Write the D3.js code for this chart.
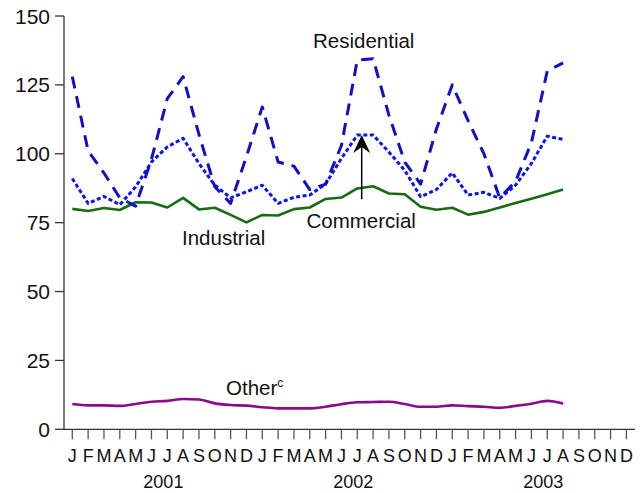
<!DOCTYPE html>
<html><head><meta charset="utf-8">
<script src="https://cdn.jsdelivr.net/npm/d3@7"></script>
<style>
html,body{margin:0;padding:0;background:#fff;}
svg{display:block;}
text{font-family:"Liberation Sans",Arial,Helvetica,sans-serif;fill:#111;}
</style></head>
<body>
<svg id="chart" width="643" height="493"></svg>
<script>
// ---- data (Jan 2001 .. Aug 2003), index 0 = Jan 2001 ----
const monthLabels = ["J","F","M","A","M","J","J","A","S","O","N","D"];
const years = ["2001","2002","2003"];
const yTicks = [0,25,50,75,100,125,150];

const residential = [128,101,93,84,81,98,120,128,107,88,82,99,
                     117,97,95.5,87,89,103,134,134.5,114,97,89,109,
                     125,112,100,84,90,104,130,133];
const commercial  = [91,82,84.5,81.5,88,97,102.5,105.6,96.5,88.6,84,86.2,
                     88.6,82,84.2,85,89,98.3,106.8,106.8,100.6,94,84.4,87,
                     93.1,85,86,83.8,88.6,96.5,106.4,105.2];
const industrial  = [80,79.2,80.3,79.6,82.4,82.3,80.5,84,79.8,80.4,77.8,75.1,
                     77.8,77.6,79.9,80.5,83.6,84.1,87.4,88.2,85.6,85.3,80.8,79.7,
                     80.4,77.9,78.9,80.5,82.1,83.7,85.3,87];
const other       = [9.2,8.7,8.7,8.5,9.2,10,10.3,11,10.8,9.4,8.8,8.6,
                     8.0,7.6,7.6,7.6,8.2,9.1,9.8,9.9,10.0,9.2,8.2,8.2,
                     8.7,8.4,8.2,7.8,8.5,9.3,10.3,9.4];

const svg = d3.select("#chart");
const nMonths = years.length * 12;

const x = d3.scaleLinear().domain([0, nMonths - 1]).range([72.3, 626.4]);
const y = d3.scaleLinear().domain([0, 150]).range([429.3, 16]);

// axes
const axisColor = "#333";
svg.append("line").attr("x1", 64).attr("x2", 64).attr("y1", y(150)).attr("y2", y(0))
  .attr("stroke", axisColor).attr("stroke-width", 1.3);
svg.append("line").attr("x1", 64).attr("x2", 635).attr("y1", y(0)).attr("y2", y(0))
  .attr("stroke", axisColor).attr("stroke-width", 1.3);

// y ticks
const yg = svg.append("g");
yTicks.forEach(t => {
  yg.append("line").attr("x1", 55).attr("x2", 64).attr("y1", y(t)).attr("y2", y(t))
    .attr("stroke", axisColor).attr("stroke-width", 1.3);
  yg.append("text").attr("x", 50).attr("y", y(t)).attr("dy", "0.36em")
    .attr("text-anchor", "end").attr("font-size", 21).text(t);
});

// x ticks & month labels
const xg = svg.append("g");
d3.range(nMonths).forEach(i => {
  xg.append("line").attr("x1", x(i)).attr("x2", x(i)).attr("y1", y(0)).attr("y2", y(0) + 10)
    .attr("stroke", "#555").attr("stroke-width", 1.3);
  xg.append("text").attr("x", x(i)).attr("y", 461.5).attr("text-anchor", "middle")
    .attr("font-size", 18).text(monthLabels[i % 12]);
});
years.forEach((yr, k) => {
  xg.append("text").attr("x", (x(k*12) + x(k*12 + 11)) / 2 + 4).attr("y", 488)
    .attr("text-anchor", "middle").attr("font-size", 18).text(yr);
});

// series
function draw(data, color, width, dash, curve) {
  const line = d3.line().x((d, i) => x(i)).y(d => y(d)).curve(curve || d3.curveLinear);
  svg.append("path").datum(data).attr("d", line).attr("fill", "none")
    .attr("stroke", color).attr("stroke-width", width)
    .attr("stroke-dasharray", dash || null).attr("stroke-linejoin", "round");
}
draw(other, "#8a0a8a", 2.6, null, d3.curveMonotoneX);
draw(industrial, "#146c14", 2.6, null);
draw(commercial, "#0a14f0", 3, "4,2.5");
draw(residential, "#1010c4", 3, "12,8");

// labels
svg.append("text").attr("x", 313).attr("y", 47.5).attr("font-size", 20.5).text("Residential");
svg.append("text").attr("x", 182).attr("y", 245).attr("font-size", 20.5).text("Industrial");
svg.append("text").attr("x", 306.5).attr("y", 228).attr("font-size", 20.5).text("Commercial");
const oth = svg.append("text").attr("x", 226).attr("y", 395).attr("font-size", 20.5);
oth.append("tspan").text("Other");
oth.append("tspan").attr("font-size", 12).attr("dy", -8).text("c");

// arrow pointing to commercial peak
const ax = x(18.28), tipY = y(106.8), baseY = y(83.5);
svg.append("line").attr("x1", ax).attr("x2", ax).attr("y1", baseY).attr("y2", tipY + 10)
  .attr("stroke", "#000").attr("stroke-width", 1.5);
svg.append("path")
  .attr("d", `M${ax},${tipY} L${ax+8.5},${tipY+18} L${ax},${tipY+12} L${ax-8.5},${tipY+18} Z`)
  .attr("fill", "#000");
</script>
</body></html>
